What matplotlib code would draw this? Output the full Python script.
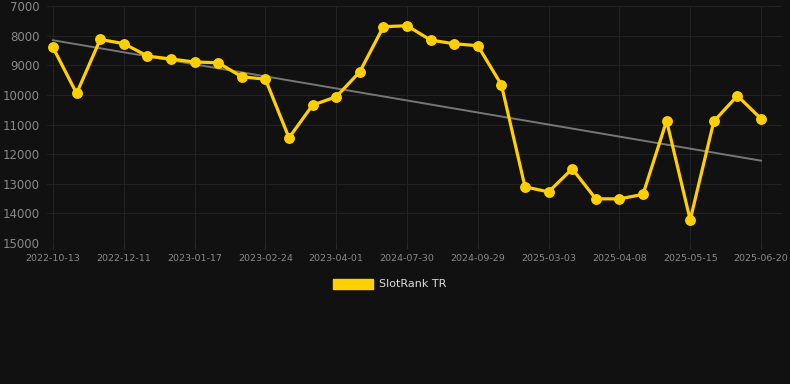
import matplotlib
matplotlib.use("Agg")
import matplotlib.pyplot as plt
import matplotlib.patches as mp
import numpy as np

fechas = ["2022-10-13", "2022-12-11", "2023-01-17", "2023-02-24", "2023-04-01",
          "2024-07-30", "2024-09-29", "2025-03-03", "2025-04-08", "2025-05-15",
          "2025-06-20"]
rango = [8400, 9950, 8130, 8270, 8690, 8790, 8890, 8915, 9390, 9470,
         11450, 10345, 10065, 9220, 7700, 7665, 8150, 8275, 8340, 9660,
         13105, 13275, 12495, 13510, 13510, 13360, 10875, 14220, 10895, 10030,
         10805]
serie = "SlotRank TR"

fondo = "#111111"
amarillo = "#FFD000"

x = np.arange(len(rango))
tendencia = np.polyfit(x, rango, 1)

fig = plt.figure(figsize=(7.9, 3.84), dpi=100, facecolor=fondo)
ax = fig.add_axes([47/790, 1-243/384, (782-47)/790, (243-6)/384])
ax.set_facecolor(fondo)

ax.plot(x, np.polyval(tendencia, x), color="#777777", lw=1.4, zorder=2)
ax.plot(x, rango, color=amarillo, lw=2.3, marker="o", ms=6.8, zorder=3)

ax.set_ylim(15000, 7000)
ax.set_yticks(np.arange(7000, 15001, 1000))
ax.set_xlim(-6/23.6, 30 + 21/23.6)
ax.set_xticks(x[::3])
ax.set_xticklabels(fechas)
ax.grid(True, color="#222222", lw=0.8)
for s in ax.spines.values():
    s.set_visible(False)
ax.tick_params(axis="y", length=0, pad=5, labelsize=8.5, labelcolor="#8a8a8a")
ax.tick_params(axis="x", length=4, color="#2a2a2a", pad=4, labelsize=6.8, labelcolor="#8a8a8a")

# leyenda
fig.patches.append(mp.Rectangle((333/790, 1-289/384), 40/790, 10/384,
                                transform=fig.transFigure, color=amarillo))
fig.text(379/790, 1-284/384, serie, color="#dddddd", fontsize=8, va="center")

fig.savefig("out.png", facecolor=fondo)
